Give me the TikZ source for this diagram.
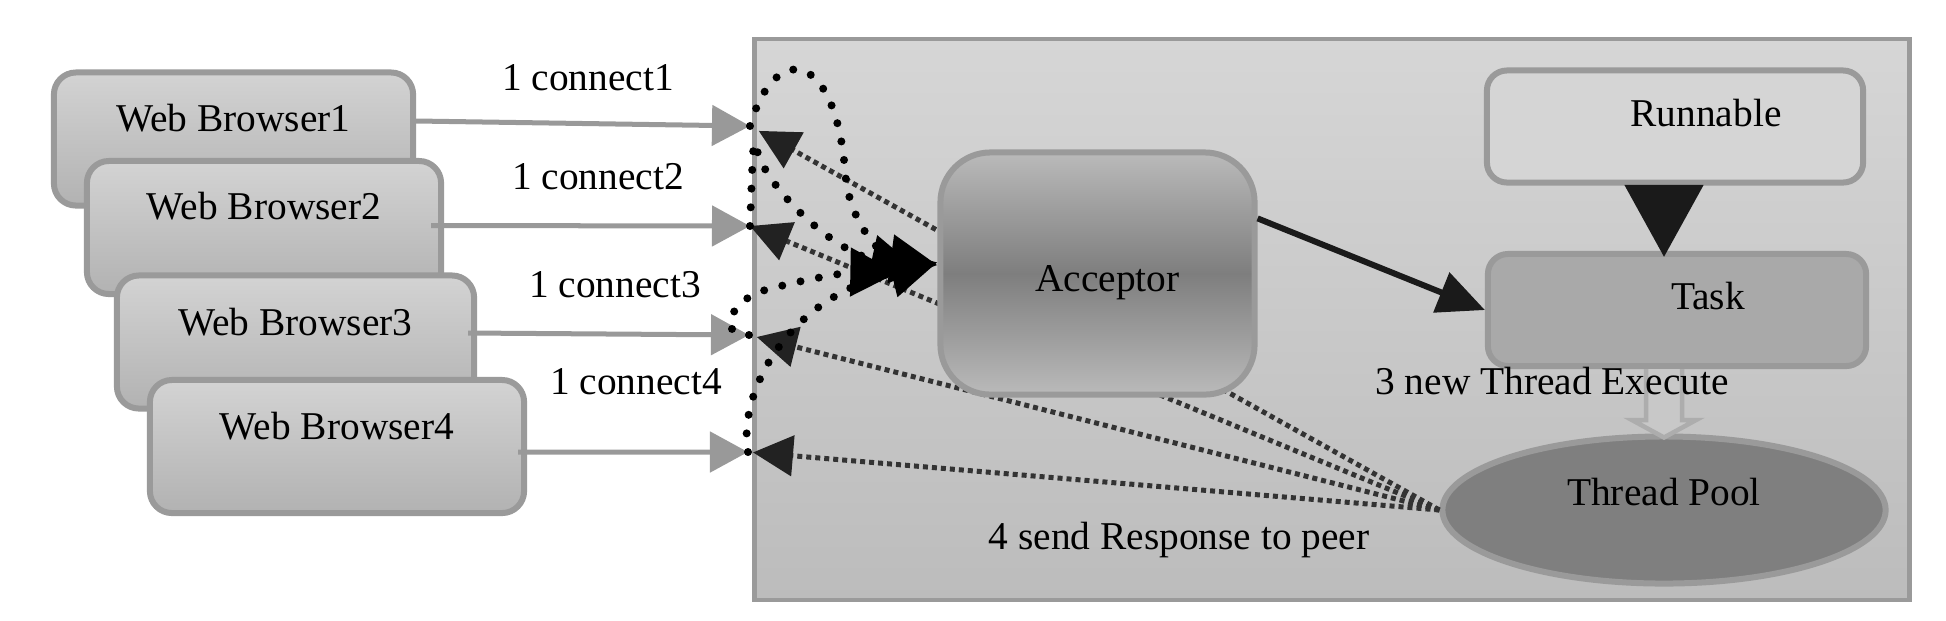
\documentclass[tikz,border=0pt]{standalone}
\usepackage{fontspec}
\setmainfont{Liberation Serif}
\usetikzlibrary{arrows.meta,calc,shapes.geometric}

\definecolor{edgegray}{HTML}{9A9A9A}
\definecolor{clustertop}{HTML}{D6D6D6}
\definecolor{clusterbot}{HTML}{BCBCBC}
\definecolor{boxtop}{HTML}{D3D3D3}
\definecolor{boxbot}{HTML}{B2B2B2}
\definecolor{accedge}{HTML}{BABABA}
\definecolor{accmid}{HTML}{7E7E7E}
\definecolor{runfill}{HTML}{D5D5D5}
\definecolor{taskfill}{HTML}{A9A9A9}
\definecolor{poolfill}{HTML}{7F7F7F}
\definecolor{arrgray}{HTML}{999999}
\definecolor{retgray}{HTML}{333333}
\definecolor{rethead}{HTML}{222222}
\definecolor{darkline}{HTML}{1A1A1A}
\definecolor{hollowfill}{HTML}{C8C8C8}
\definecolor{hollowedge}{HTML}{ADADAD}

\begin{document}
\begin{tikzpicture}[
    x=0.01cm, y=-0.01cm,
    font=\fontsize{11.2}{13}\selectfont,
    cluster/.style={rectangle, draw=edgegray, line width=0.045cm, top color=clustertop, bottom color=clusterbot, minimum width=11.54cm, minimum height=5.61cm},
    wbbox/.style={rectangle, draw=edgegray, line width=0.06cm, rounded corners=0.22cm, top color=boxtop, bottom color=boxbot, minimum height=1.33cm},
    accbox/.style={rectangle, draw=edgegray, line width=0.06cm, rounded corners=0.5cm, top color=accedge, bottom color=accedge, middle color=accmid, minimum width=3.14cm, minimum height=2.42cm},
    runbox/.style={rectangle, draw=edgegray, line width=0.06cm, rounded corners=0.2cm, fill=runfill, minimum width=3.76cm, minimum height=1.12cm},
    taskbox/.style={runbox, fill=taskfill, minimum width=3.78cm},
    poolnode/.style={ellipse, draw=edgegray, line width=0.06cm, fill=poolfill, minimum width=4.43cm, minimum height=1.47cm},
    intext/.style={inner sep=0pt},
    fwd/.style={-{Triangle[length=0.38cm, width=0.40cm]}, line width=0.05cm, draw=arrgray},
    ret/.style={-{Triangle[length=0.40cm, width=0.40cm, color=rethead]}, line width=0.05cm, draw=retgray, dash pattern=on 0.05cm off 0.04cm},
    conn/.style={-{Triangle[length=0.47cm, width=0.47cm]}, line width=0.08cm, draw=black, line cap=round, dash pattern=on 0pt off 0.187cm},
    solidarr/.style={-{Triangle[length=0.47cm, width=0.42cm]}, line width=0.06cm, draw=darkline},
    bigarr/.style={-{Triangle[length=0.73cm, width=0.74cm]}, line width=0.17cm, draw=darkline},
    hollowarr/.style={draw=hollowedge, fill=hollowfill, line width=0.045cm, line join=miter}
]
    \useasboundingbox (0,0) rectangle (1946,620);

    % server side
    \node [cluster] (server) at (1332,319.5) {};

    % browsers
    \node [wbbox, minimum width=3.59cm, label={[intext, yshift=0.21cm]center:Web Browser1}] (wb1) at (233.5,139) {};
    \node [wbbox, minimum width=3.54cm, label={[intext, yshift=0.21cm]center:Web Browser2}] (wb2) at (264,227.5) {};
    \node [wbbox, minimum width=3.57cm, label={[intext, yshift=0.20cm]center:Web Browser3}] (wb3) at (295.5,342) {};
    \node [wbbox, minimum width=3.74cm, label={[intext, yshift=0.20cm]center:Web Browser4}] (wb4) at (337,446.5) {};

    \coordinate (in1) at (750,126);
    \coordinate (in2) at (750,226);
    \coordinate (in3) at (749,335);
    \coordinate (in4) at (748,452);

    \draw [fwd] ([yshift=0.18cm]wb1.east) -- (in1);
    \draw [fwd] ([xshift=-0.13cm, yshift=0.02cm]wb2.east) -- (in2);
    \draw [fwd] ([xshift=-0.09cm, yshift=0.09cm]wb3.east) -- (in3);
    \draw [fwd] ([xshift=-0.09cm, yshift=-0.055cm]wb4.east) -- (in4);

    \node [intext] (c1) at (588,78) {1 connect1};
    \node [intext] (c2) at (598,177) {1 connect2};
    \node [intext] (c3) at (615,285) {1 connect3};
    \node [intext] (c4) at (636,382) {1 connect4};

    % workers
    \node [runbox, label={[intext, xshift=0.31cm, yshift=0.135cm]center:Runnable}] (runnable) at (1675,126.5) {};
    \node [taskbox, label={[intext, xshift=0.31cm, yshift=0.14cm]center:Task}] (task) at (1677,310) {};
    \node [poolnode, label={[intext, yshift=0.18cm]center:Thread Pool}] (pool) at (1664,510) {};

    % responses
    \draw [ret, shorten >=0.1cm] (pool.west) -- (in1);
    \draw [ret] (pool.west) -- (in2);
    \draw [ret, shorten >=0.08cm] (pool.west) -- (in3);
    \draw [ret, shorten >=0.05cm] (pool.west) -- (in4);

    \node [accbox, label={[intext, xshift=0.1cm, yshift=-0.095cm]center:Acceptor}] (acceptor) at (1097.5,273.5) {};

    % connections
    \draw [conn] (in1) .. controls (775,40) and (835,50) .. (845,170) .. controls (848,225) and (885,258) .. (acceptor.177);
    \draw [conn, shorten >=0.2cm] (in2) .. controls (753,150) and (753,130) .. (757,150) .. controls (765,185) and (830,250) .. (acceptor.west);
    \draw [conn, shorten >=0.4cm] (in3) .. controls (712,335) and (735,295) .. (770,289) .. controls (800,280) and (850,272) .. (acceptor.west);
    \draw [conn] (in4) .. controls (738,400) and (780,300) .. (acceptor.176);

    \draw [solidarr] (acceptor.19) -- (task.west);
    \draw [bigarr, shorten >=-0.07cm] (runnable.south -| pool.north) -- (task.north -| pool.north);

    \coordinate (tp) at (task.south -| pool.north);
    \filldraw [hollowarr] ($(tp)+(-18,0)$) -- ($(tp)+(-18,51)$) -- ($(tp)+(-32,51)$) -- ($(pool.north)+(0,4)$) -- ($(tp)+(32,51)$) -- ($(tp)+(18,51)$) -- ($(tp)+(18,0)$);

    \node [intext] (execlbl) at (1552,381) {3 new Thread Execute};
    \node [intext] (resplbl) at (1179,540) {4 send Response to peer};
\end{tikzpicture}
\end{document}
